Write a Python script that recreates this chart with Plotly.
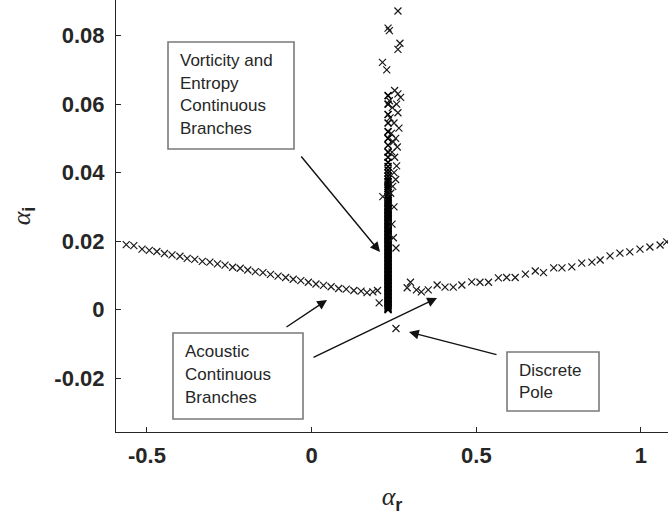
import plotly.graph_objects as go

# ---------------- data ----------------
acoustic_left_x = [-0.563, -0.540, -0.515, -0.493, -0.470, -0.447, -0.424, -0.400, -0.378,
                   -0.355, -0.332, -0.309, -0.286, -0.263, -0.240, -0.217, -0.194, -0.171,
                   -0.148, -0.125, -0.102, -0.079, -0.056, -0.033, -0.010, 0.013, 0.036,
                   0.059, 0.082, 0.105, 0.128, 0.150, 0.168, 0.186, 0.200, 0.205]
acoustic_left_y = [0.0190, 0.0187, 0.0177, 0.0173, 0.0170, 0.0164, 0.0160, 0.0156, 0.0150,
                   0.0147, 0.0141, 0.0139, 0.0134, 0.0130, 0.0124, 0.0121, 0.0116, 0.0111,
                   0.0108, 0.0103, 0.0098, 0.0094, 0.0089, 0.0085, 0.0080, 0.0075, 0.0071,
                   0.0067, 0.0062, 0.0060, 0.0056, 0.0054, 0.0050, 0.0052, 0.0056, 0.0020]

acoustic_right_x = [0.290, 0.300, 0.318, 0.333, 0.354, 0.381, 0.405, 0.430, 0.456, 0.486,
                    0.511, 0.537, 0.567, 0.592, 0.618, 0.649, 0.679, 0.704, 0.735, 0.760,
                    0.790, 0.820, 0.851, 0.876, 0.906, 0.936, 0.966, 0.997, 1.027, 1.058,
                    1.078]
acoustic_right_y = [0.0064, 0.0080, 0.0058, 0.0052, 0.0058, 0.0072, 0.0066, 0.0066, 0.0072,
                    0.0081, 0.0080, 0.0080, 0.0093, 0.0094, 0.0094, 0.0104, 0.0113, 0.0108,
                    0.0122, 0.0122, 0.0125, 0.0136, 0.0139, 0.0145, 0.0157, 0.0165, 0.0169,
                    0.0177, 0.0183, 0.0189, 0.0198]

column_y = [0.0000, 0.0004, 0.0008, 0.0012, 0.0016, 0.0020, 0.0024, 0.0028, 0.0032, 0.0036,
            0.0040, 0.0044, 0.0048, 0.0052, 0.0056, 0.0060, 0.0064, 0.0068, 0.0072, 0.0076,
            0.0080, 0.0084, 0.0088, 0.0092, 0.0096, 0.0100, 0.0104, 0.0108, 0.0112, 0.0116,
            0.0120, 0.0124, 0.0128, 0.0132, 0.0136, 0.0140, 0.0144, 0.0148, 0.0152, 0.0156,
            0.0160, 0.0164, 0.0168, 0.0172, 0.0176, 0.0180, 0.0184, 0.0188, 0.0192, 0.0196,
            0.0200, 0.0204, 0.0208, 0.0212, 0.0216, 0.0220, 0.0224, 0.0228, 0.0232, 0.0236,
            0.0240, 0.0244, 0.0248, 0.0252, 0.0256, 0.0260, 0.0264, 0.0268, 0.0272, 0.0276,
            0.0280, 0.0284, 0.0288, 0.0292, 0.0296, 0.0300, 0.0305, 0.0310, 0.0315, 0.0320,
            0.0325, 0.0330, 0.0336, 0.0342, 0.0348, 0.0354, 0.0360, 0.0367, 0.0374, 0.0381,
            0.0390, 0.0399, 0.0408, 0.0418, 0.0430, 0.0445, 0.0460, 0.0480, 0.0500, 0.0520,
            0.0545, 0.0570, 0.0600, 0.0625]
column_x = [0.232] * len(column_y)

scatter_x = [0.262, 0.232, 0.236, 0.268, 0.262, 0.215, 0.228, 0.252, 0.262, 0.270, 0.236,
             0.258, 0.245, 0.262, 0.238, 0.250, 0.265, 0.242, 0.255, 0.248, 0.260, 0.244,
             0.252, 0.258, 0.216, 0.250, 0.255, 0.246, 0.240, 0.250, 0.244, 0.248, 0.256]
scatter_y = [0.0872, 0.0822, 0.0815, 0.0778, 0.0760, 0.0722, 0.0700, 0.0640, 0.0630, 0.0620,
             0.0610, 0.0600, 0.0590, 0.0575, 0.0560, 0.0545, 0.0530, 0.0515, 0.0500, 0.0490,
             0.0475, 0.0460, 0.0445, 0.0420, 0.0330, 0.0400, 0.0380, 0.0360, 0.0340, 0.0300,
             0.0250, 0.0210, 0.0180]

pole_x = [0.256]
pole_y = [-0.0055]

x_tickvals = [-0.5, 0, 0.5, 1]
x_ticktext = ["-0.5", "0", "0.5", "1"]
y_tickvals = [-0.02, 0, 0.02, 0.04, 0.06, 0.08]
y_ticktext = ["-0.02", "0", "0.02", "0.04", "0.06", "0.08"]

box_vort = ["Vorticity and", "Entropy", "Continuous", "Branches"]
box_acou = ["Acoustic", "Continuous", "Branches"]
box_pole = ["Discrete", "Pole"]

# ---------------- layout geometry ----------------
W, H = 668, 522
ML, MR, MT, MB = 116, 0, 0, 90
PW, PH = W - ML - MR, H - MT - MB


def px(x):
    return (x - ML) / PW


def py(y):
    return (MT + PH - y) / PH


INK = "#262626"
MK = "#1a1a1a"
marker = dict(symbol="x-thin-open", size=7, color=MK, line=dict(width=1.2, color=MK))
marker_col = dict(symbol="x-thin-open", size=7, color="#000000",
                  line=dict(width=1.6, color="#000000"))

fig = go.Figure()
for xs, ys, mk in [(acoustic_left_x, acoustic_left_y, marker),
                   (acoustic_right_x, acoustic_right_y, marker),
                   (column_x, column_y, marker_col),
                   (scatter_x, scatter_y, marker),
                   (pole_x, pole_y, marker)]:
    fig.add_trace(go.Scatter(x=xs, y=ys, mode="markers", marker=mk,
                             showlegend=False, hoverinfo="skip"))

shapes = []
annotations = []

boxes = [
    (box_vort, (168, 42, 294, 149), 178, [60.5, 83, 105.5, 128]),
    (box_acou, (173, 333, 303, 419), 183, [351.5, 374, 397]),
    (box_pole, (507, 352, 599, 411), 517, [370, 392]),
]
for lines, (x0, y0, x1, y1), tx, tys in boxes:
    shapes.append(dict(type="rect", xref="paper", yref="paper",
                       x0=px(x0), x1=px(x1), y0=py(y1), y1=py(y0),
                       line=dict(color="#7a7a7a", width=1.6), fillcolor="white",
                       layer="above"))
    for t, ty in zip(lines, tys):
        annotations.append(dict(text=t, xref="paper", yref="paper", x=px(tx), y=py(ty),
                                xanchor="left", yanchor="middle", showarrow=False,
                                font=dict(family="Liberation Sans, Arial", size=17,
                                          color=INK)))

arrows = [
    ((380, 252), (300, 155)),
    ((327, 300), (285, 328)),
    ((437, 298), (312, 358)),
    ((409, 332), (498, 355)),
]
for (hx, hy), (tx, ty) in arrows:
    annotations.append(dict(text="", xref="paper", yref="paper", x=px(hx), y=py(hy),
                            ax=tx - hx, ay=ty - hy, showarrow=True, arrowhead=2,
                            arrowsize=1.4, arrowwidth=1.4, arrowcolor="#111111",
                            standoff=0, startstandoff=0))

tickfont = dict(family="Liberation Sans, Arial", size=22, color=INK, weight="bold")
axis_common = dict(showline=True, linecolor=INK, linewidth=1.2, mirror=False,
                   ticks="inside", ticklen=5, tickwidth=1, tickcolor=INK,
                   showgrid=False, zeroline=False, tickfont=tickfont)

fig.update_layout(
    width=W, height=H,
    margin=dict(l=ML, r=MR, t=MT, b=MB),
    paper_bgcolor="white", plot_bgcolor="white",
    shapes=shapes, annotations=annotations,
    xaxis=dict(range=[-0.5941, 1.0820], tickvals=x_tickvals, ticktext=x_ticktext,
               ticklabelstandoff=3,
               title=dict(text='<span style="font-family:Liberation Serif"><i>α</i></span>'
                               '<sub><b>r</b></sub>',
                          font=dict(family="Liberation Sans, Arial", size=26, color=INK),
                          standoff=20),
               **axis_common),
    yaxis=dict(range=[-0.03571, 0.09042], tickvals=y_tickvals, ticktext=y_ticktext,
               ticklabelstandoff=6,
               title=dict(text='<span style="font-family:Liberation Serif"><i>α</i></span>'
                               '<sub><b>i</b></sub>',
                          font=dict(family="Liberation Sans, Arial", size=26, color=INK),
                          standoff=16),
               **axis_common),
)

fig.write_html("out.html")
